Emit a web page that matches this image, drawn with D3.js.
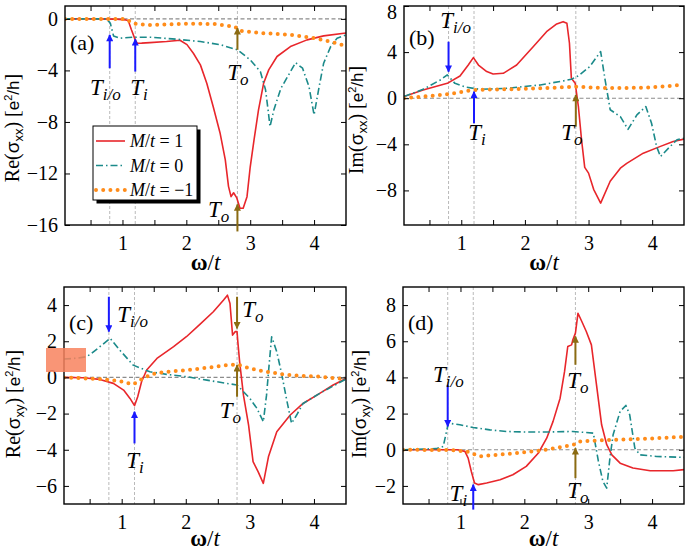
<!DOCTYPE html>
<html>
<head>
<meta charset="utf-8">
<script src="https://cdn.jsdelivr.net/npm/d3@7"></script>
<style>
  body { margin: 0; background: #fff; }
  svg { display: block; }
  svg text { font-family: "Liberation Serif", "Times New Roman", Times, "DejaVu Serif", serif; }
  svg text .sans { font-family: "Liberation Sans", Arial, Helvetica, sans-serif; }
  .guide { stroke: #a8a8a8; stroke-width: 0.8; stroke-dasharray: 3,2; }
  .zero { stroke: #8c8c8c; stroke-width: 1.1; stroke-dasharray: 4,2.5; }
</style>
</head>
<body>
<div id="chart"></div>
<script>
// shared omega axis
var xDomain = [0.1, 4.5];
var xTicks = [0.5, 1, 1.5, 2, 2.5, 3, 3.5, 4];
var xTickLabels = [1, 2, 3, 4];
var markLines = [0.8, 1.2, 2.8];
var legendLabels = ["1", "0", "\u22121"];

// (a) Re(sigma_xx)
var reXX_p1 = [[0.1,0],[0.5,0],[0.9,-0.02],[1.05,-0.08],[1.09,-0.13],[1.14,-0.85],[1.2,-1.63],[1.23,-1.89],[1.3,-1.88],[1.43,-1.84],[1.69,-1.76],[1.9,-1.66],[2.01,-2.0],[2.11,-2.67],[2.22,-3.57],[2.32,-5.0],[2.42,-6.8],[2.53,-8.9],[2.61,-10.95],[2.66,-13.0],[2.7,-13.8],[2.74,-13.5],[2.79,-13.9],[2.84,-14.7],[2.89,-14.7],[2.95,-13.8],[3.0,-11.5],[3.06,-9.4],[3.13,-7.07],[3.21,-5.0],[3.29,-3.96],[3.42,-2.92],[3.63,-2.15],[3.89,-1.63],[4.15,-1.32],[4.5,-1.1]];
var reXX_0 = [[0.1,0],[0.5,0],[0.75,0],[0.81,-0.34],[0.86,-1.32],[0.96,-1.5],[1.17,-1.42],[1.43,-1.42],[1.85,-1.58],[2.22,-1.76],[2.53,-2.0],[2.8,-2.4],[3.0,-3.18],[3.16,-4.1],[3.24,-5.5],[3.28,-7.07],[3.31,-8.36],[3.37,-7.07],[3.48,-5.4],[3.63,-4.1],[3.71,-3.4],[3.82,-3.83],[3.92,-5.25],[4.0,-7.45],[4.08,-5.25],[4.15,-3.44],[4.26,-2.15],[4.36,-1.5],[4.5,-1.24]];
var reXX_m1 = [[0.1,0],[0.6,0],[1.06,0],[1.14,-0.28],[1.22,-0.41],[1.43,-0.47],[1.95,-0.38],[2.42,-0.39],[2.76,-0.6],[2.84,-0.93],[3.21,-1.11],[3.63,-1.24],[4.0,-1.5],[4.26,-1.76],[4.5,-2.1]];

// (b) Im(sigma_xx)
var imXX_p1 = [[0.1,0.14],[0.4,0.72],[0.78,1.29],[0.98,1.93],[1.11,2.88],[1.19,3.52],[1.27,2.88],[1.4,2.31],[1.5,2.1],[1.66,2.16],[1.87,2.88],[2.13,4.47],[2.34,5.77],[2.5,6.44],[2.6,6.64],[2.66,6.5],[2.7,4.77],[2.73,1.73],[2.79,1.3],[2.84,-0.7],[2.89,-3.6],[2.94,-6.0],[3.0,-6.5],[3.08,-7.9],[3.19,-9.1],[3.34,-7.2],[3.5,-6.07],[3.6,-5.65],[3.86,-4.77],[4.12,-4.2],[4.33,-3.75],[4.5,-3.55]];
var imXX_0 = [[0.1,0.14],[0.4,0.77],[0.67,1.58],[0.78,2.02],[0.9,1.29],[1.08,0.95],[1.29,0.77],[1.71,0.86],[2.24,1.15],[2.6,1.5],[2.73,1.65],[2.84,1.94],[3.02,2.75],[3.19,4.05],[3.26,1.6],[3.34,-1.0],[3.5,-1.6],[3.62,-2.7],[3.76,-1.45],[3.9,-0.72],[3.99,-2.17],[4.07,-4.2],[4.13,-5.06],[4.28,-4.2],[4.39,-3.6],[4.5,-3.47]];
var imXX_m1 = [[0.1,0],[0.4,0.14],[0.78,0.34],[1.19,0.72],[1.71,0.77],[2.24,0.86],[2.8,1.0],[3.3,0.87],[3.9,0.92],[4.5,1.16]];

// (c) Re(sigma_xy)
var reXY_p1 = [[0.1,0],[0.4,-0.02],[0.66,-0.11],[0.87,-0.33],[1.03,-0.7],[1.13,-1.16],[1.2,-1.56],[1.25,-1.07],[1.31,-0.24],[1.39,0.41],[1.55,1.05],[1.81,1.7],[2.01,2.25],[2.22,2.93],[2.43,3.63],[2.59,4.28],[2.65,4.55],[2.69,4.09],[2.73,2.34],[2.77,2.53],[2.8,2.53],[2.81,2.06],[2.84,0.87],[2.9,-0.98],[2.98,-2.64],[3.05,-4.66],[3.13,-5.22],[3.21,-5.86],[3.29,-4.39],[3.42,-3.0],[3.63,-2.08],[3.83,-1.44],[4.09,-0.88],[4.3,-0.42],[4.5,-0.06]];
var reXY_0 = [[0.1,1.02],[0.3,1.06],[0.44,1.14],[0.51,1.27],[0.66,1.7],[0.82,2.16],[0.97,1.51],[1.18,0.68],[1.44,0.31],[1.7,0.17],[2.01,0.04],[2.33,-0.15],[2.64,-0.33],[2.8,-0.42],[3.0,-1.16],[3.11,-1.71],[3.21,-2.45],[3.26,-0.98],[3.3,0.68],[3.34,2.25],[3.42,1.42],[3.5,0.13],[3.57,-1.16],[3.65,-2.54],[3.73,-2.08],[3.83,-1.44],[4.09,-0.88],[4.5,-0.09]];
var reXY_m1 = [[0.1,0],[0.66,-0.09],[0.97,-0.2],[1.18,-0.39],[1.33,-0.05],[1.49,0.2],[1.7,0.31],[2.0,0.4],[2.33,0.53],[2.64,0.68],[2.8,0.72],[3.0,0.5],[3.26,0.31],[3.52,0.17],[3.78,0.09],[4.1,0.04],[4.5,-0.1]];

// (d) Im(sigma_xy)
var imXY_p1 = [[0.1,0],[0.95,0],[1.07,-0.09],[1.12,-0.46],[1.17,-1.2],[1.22,-1.84],[1.28,-1.93],[1.41,-1.84],[1.62,-1.66],[1.82,-1.38],[2.03,-0.92],[2.22,-0.18],[2.35,0.64],[2.45,1.57],[2.56,2.85],[2.63,4.33],[2.68,5.71],[2.74,5.8],[2.76,6.08],[2.8,6.45],[2.84,7.55],[2.9,7.09],[2.97,6.54],[3.05,5.8],[3.13,3.59],[3.21,1.38],[3.29,0.28],[3.37,-0.28],[3.5,-0.74],[3.7,-1.01],[3.97,-1.16],[4.33,-1.16],[4.5,-1.1]];
var imXY_0 = [[0.1,0],[0.62,0.06],[0.73,0.18],[0.77,0.83],[0.81,1.47],[0.99,1.38],[1.2,1.23],[1.46,1.1],[1.72,1.01],[2.03,0.98],[2.35,0.98],[2.76,1.01],[3.08,0.92],[3.16,-0.64],[3.23,-1.75],[3.29,-2.12],[3.34,-0.46],[3.39,0.83],[3.5,2.12],[3.59,2.45],[3.65,1.93],[3.73,0.09],[3.81,-0.28],[4.07,-0.37],[4.5,-0.42]];
var imXY_m1 = [[0.1,0],[0.84,-0.02],[1.1,-0.09],[1.3,-0.37],[1.57,-0.28],[1.88,-0.18],[2.24,-0.05],[2.55,0.13],[2.8,0.31],[2.86,0.46],[3.28,0.53],[3.79,0.59],[4.31,0.68],[4.5,0.72]];

// transition markers: [omega, from, to, colour]
var arrowsA = [[0.8,-3.83,-1.24,"i"],[1.2,-4.09,-1.58,"i"],[2.8,-2.4,-0.72,"o"],[2.8,-16.5,-14.4,"o"]];
var arrowsB = [[0.8,4.9,2.3,"i"],[1.2,-2.17,0.57,"i"],[2.8,-2.46,0.29,"o"]];
var arrowsC = [[0.8,4.46,2.53,"i"],[1.2,-3.65,-1.9,"i"],[2.8,4.46,2.71,"o"],[2.8,-1.07,0.68,"o"]];
var arrowsD = [[0.8,3.59,1.29,"i"],[1.2,-3.31,-1.93,"i"],[2.8,4.7,6.26,"o"],[2.8,-1.57,0.09,"o"]];
// [omega, value, subscript]
var tagsA = [[0.49,-5.91,"i/o"],[1.12,-5.91,"i"],[2.64,-4.75,"o"],[2.34,-15.38,"o"]];
var tagsB = [[0.67,6.09,"i/o"],[1.11,-3.61,"i"],[2.57,-3.61,"o"]];
var tagsC = [[0.93,3.06,"i/o"],[1.07,-5.01,"i"],[2.88,3.34,"o"],[2.53,-2.25,"o"]];
var tagsD = [[0.57,3.76,"i/o"],[0.83,-2.82,"i"],[2.67,3.43,"o"],[2.67,-2.65,"o"]];

var styles = [
    { color: "#e8262b", width: 1.6, dash: null, cap: "butt" },
    { color: "#1b8a8a", width: 1.6, dash: "7,3,1.5,3", cap: "butt" },
    { color: "#ff8c1a", width: 4, dash: "0,7.2", cap: "round" }
];
var arrowColor = { i: "#1a1aff", o: "#8b6b12" };

var svg = d3.select("#chart").append("svg")
    .attr("width", 685)
    .attr("height", 550);

var defs = svg.append("defs");
Object.keys(arrowColor).forEach(function (k) {
    defs.append("marker")
        .attr("id", "head-" + k)
        .attr("viewBox", "0 0 10 10")
        .attr("refX", 9).attr("refY", 5)
        .attr("markerUnits", "userSpaceOnUse")
        .attr("markerWidth", 8).attr("markerHeight", 7)
        .attr("orient", "auto")
        .append("path")
        .attr("d", "M0,0L10,5L0,10z")
        .attr("fill", arrowColor[k]);
});

function addT(g, px, py, sub) {
    var t = g.append("text")
        .attr("x", px).attr("y", py)
        .attr("font-style", "italic");
    t.append("tspan").attr("font-size", 23).text("T");
    t.append("tspan").attr("font-size", 17).attr("dy", 5).text(sub);
}

function drawPanel(cfg) {
    var x = d3.scaleLinear().domain(xDomain).range([cfg.l, cfg.r]);
    var y = d3.scaleLinear().domain(cfg.yDomain).range([cfg.b, cfg.t]);
    var g = svg.append("g");

    defs.append("clipPath").attr("id", "clip-" + cfg.id)
        .append("rect")
        .attr("x", cfg.l).attr("y", cfg.t)
        .attr("width", cfg.r - cfg.l).attr("height", cfg.b - cfg.t);

    var plot = g.append("g").attr("clip-path", "url(#clip-" + cfg.id + ")");

    markLines.forEach(function (v) {
        plot.append("line").attr("class", "guide")
            .attr("x1", x(v)).attr("x2", x(v))
            .attr("y1", cfg.t).attr("y2", cfg.b);
    });
    plot.append("line").attr("class", "zero")
        .attr("x1", cfg.l).attr("x2", cfg.r)
        .attr("y1", y(0)).attr("y2", y(0));

    var line = d3.line()
        .x(function (d) { return x(d[0]); })
        .y(function (d) { return y(d[1]); });

    cfg.series.forEach(function (s, i) {
        var st = styles[i];
        plot.append("path")
            .datum(s)
            .attr("d", line)
            .attr("fill", "none")
            .attr("stroke", st.color)
            .attr("stroke-width", st.width)
            .attr("stroke-dasharray", st.dash)
            .attr("stroke-linecap", st.cap)
            .attr("stroke-linejoin", "round");
    });

    // axes, ticks pointing inward on all four sides
    var bottom = g.append("g")
        .attr("transform", "translate(0," + cfg.b + ")")
        .call(d3.axisBottom(x).tickValues(xTicks).tickSizeInner(-5).tickSizeOuter(0).tickPadding(11)
            .tickFormat(function (d) { return xTickLabels.indexOf(d) >= 0 ? d : ""; }));
    var top = g.append("g")
        .attr("transform", "translate(0," + cfg.t + ")")
        .call(d3.axisTop(x).tickValues(xTicks).tickSizeInner(-5).tickSizeOuter(0).tickFormat(""));
    var left = g.append("g")
        .attr("transform", "translate(" + cfg.l + ",0)")
        .call(d3.axisLeft(y).tickValues(cfg.yTicks).tickSizeInner(-5).tickSizeOuter(0).tickPadding(7));
    var right = g.append("g")
        .attr("transform", "translate(" + cfg.r + ",0)")
        .call(d3.axisRight(y).tickValues(cfg.yTicks).tickSizeInner(-5).tickSizeOuter(0).tickFormat(""));
    [bottom, top, left, right].forEach(function (a) {
        a.select(".domain").remove();
        a.attr("font-family", null).attr("font-size", 20);
        a.selectAll(".tick line").attr("stroke", "#000").attr("stroke-width", 1);
    });
    // keep a label that sits on the top edge inside the picture
    left.selectAll(".tick text").attr("dy", function (d) {
        return y(d) < 10 ? "0.6em" : "0.32em";
    });

    g.append("rect")
        .attr("x", cfg.l).attr("y", cfg.t)
        .attr("width", cfg.r - cfg.l).attr("height", cfg.b - cfg.t)
        .attr("fill", "none").attr("stroke", "#000").attr("stroke-width", 1.4);

    // transition arrows and labels
    cfg.arrows.forEach(function (a) {
        g.append("line")
            .attr("x1", x(a[0])).attr("x2", x(a[0]))
            .attr("y1", y(a[1])).attr("y2", y(a[2]))
            .attr("stroke", arrowColor[a[3]])
            .attr("stroke-width", 2)
            .attr("marker-end", "url(#head-" + a[3] + ")");
    });
    cfg.tags.forEach(function (t) {
        addT(g, x(t[0]), y(t[1]), t[2]);
    });

    // panel letter
    g.append("text")
        .attr("x", cfg.l + 5).attr("y", cfg.tagY)
        .attr("font-size", 22)
        .text(cfg.letter);

    // axis titles
    var xt = g.append("text")
        .attr("x", (cfg.l + cfg.r) / 2).attr("y", Math.min(cfg.b + 45, 546))
        .attr("text-anchor", "middle")
        .attr("font-size", 23);
    xt.append("tspan").attr("font-weight", "bold").text("\u03c9");
    xt.append("tspan").text("/");
    xt.append("tspan").attr("font-style", "italic").text("t");

    var yt = g.append("text")
        .attr("transform", "translate(" + cfg.ylx + "," + cfg.yly + ") rotate(-90)")
        .attr("text-anchor", "middle")
        .attr("font-size", 20);
    yt.append("tspan").text(cfg.part + "(");
    yt.append("tspan").attr("class", "sans").attr("font-size", 19).text("\u03c3");
    yt.append("tspan").attr("class", "sans").attr("font-size", 13).attr("dy", 4).text(cfg.sub);
    yt.append("tspan").attr("dy", -4).text(") [");
    yt.append("tspan").attr("class", "sans").attr("font-size", 17).text("e");
    yt.append("tspan").attr("class", "sans").attr("font-size", 11).attr("dy", -7).text("2");
    yt.append("tspan").attr("class", "sans").attr("font-size", 17).attr("dy", 7).text("/h");
    yt.append("tspan").text("]");

    return { g: g, x: x, y: y };
}

var pa = drawPanel({ id: "a", l: 65, r: 346, t: 6, b: 225, yDomain: [-16, 1], yTicks: [0, -4, -8, -12, -16],
    series: [reXX_p1, reXX_0, reXX_m1], arrows: arrowsA, tags: tagsA, letter: "(a)", tagY: 50,
    part: "Re", sub: "xx", ylx: 19, yly: 128 });
drawPanel({ id: "b", l: 404, r: 684, t: 6, b: 225, yDomain: [-11, 8], yTicks: [8, 4, 0, -4, -8],
    series: [imXX_p1, imXX_0, imXX_m1], arrows: arrowsB, tags: tagsB, letter: "(b)", tagY: 45,
    part: "Im", sub: "xx", ylx: 363, yly: 120 });
drawPanel({ id: "c", l: 64, r: 346, t: 287, b: 504, yDomain: [-7, 5], yTicks: [4, 2, 0, -2, -4, -6],
    series: [reXY_p1, reXY_0, reXY_m1], arrows: arrowsC, tags: tagsC, letter: "(c)", tagY: 330,
    part: "Re", sub: "xy", ylx: 20, yly: 404 });
drawPanel({ id: "d", l: 403, r: 684, t: 287, b: 504, yDomain: [-3, 9], yTicks: [8, 6, 4, 2, 0, -2],
    series: [imXY_p1, imXY_0, imXY_m1], arrows: arrowsD, tags: tagsD, letter: "(d)", tagY: 330,
    part: "Im", sub: "xy", ylx: 366, yly: 404 });

// legend inside panel (a), with a drop shadow
var lg = pa.g.append("g").attr("transform", "translate(93,126)");
lg.append("rect").attr("x", 3.5).attr("y", 3.5).attr("width", 104).attr("height", 74).attr("fill", "#000");
lg.append("rect").attr("x", 0).attr("y", 0).attr("width", 104).attr("height", 74)
    .attr("fill", "#fff").attr("stroke", "#000").attr("stroke-width", 1);
legendLabels.forEach(function (lab, i) {
    var st = styles[i];
    var ry = 15 + i * 24.5;
    lg.append("line")
        .attr("x1", 3).attr("x2", 32).attr("y1", ry).attr("y2", ry)
        .attr("stroke", st.color).attr("stroke-width", st.width)
        .attr("stroke-dasharray", st.dash).attr("stroke-linecap", st.cap);
    var t = lg.append("text").attr("x", 37).attr("y", ry + 6)
        .attr("font-size", 18);
    t.append("tspan").attr("font-style", "italic").text("M");
    t.append("tspan").text("/");
    t.append("tspan").attr("font-style", "italic").text("t");
    t.append("tspan").text(" = " + lab);
});

// salmon patch over the left edge of panel (c), as in the source figure
svg.append("rect")
    .attr("x", 46).attr("y", 348).attr("width", 40).attr("height", 24)
    .attr("fill", "#f8825e").attr("fill-opacity", 0.85);
</script>
</body>
</html>
